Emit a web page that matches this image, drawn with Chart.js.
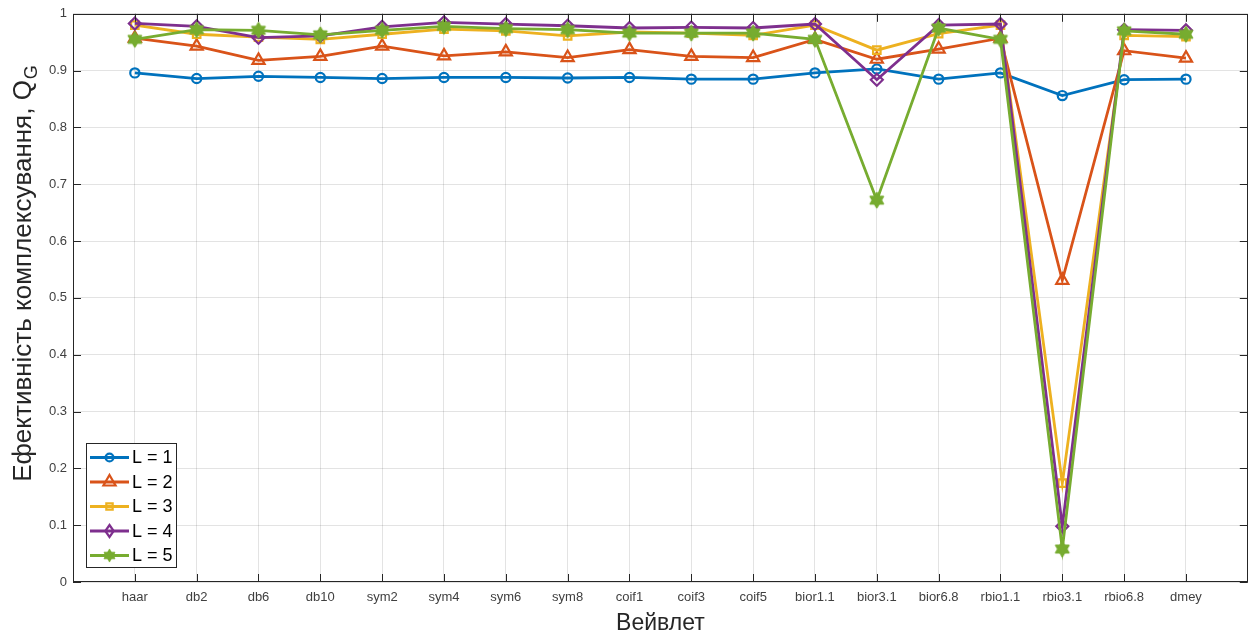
<!DOCTYPE html>
<html>
<head>
<meta charset="utf-8">
<title>Ефективність комплексування</title>
<script src="https://cdn.jsdelivr.net/npm/chart.js@4/dist/chart.umd.min.js"></script>
<style>
  html, body { margin: 0; padding: 0; background: #fff; }
  #wrap { width: 1257px; height: 635px; }
</style>
</head>
<body>
<div id="wrap"><canvas id="c" width="1257" height="635"></canvas></div>
<script>
// Wavelets on the horizontal axis
const wavelets = ['haar', 'db2', 'db6', 'db10', 'sym2', 'sym4', 'sym6', 'sym8',
  'coif1', 'coif3', 'coif5', 'bior1.1', 'bior3.1', 'bior6.8', 'rbio1.1',
  'rbio3.1', 'rbio6.8', 'dmey'];

// Series names (decomposition level)
const levelNames = ['L = 1', 'L = 2', 'L = 3', 'L = 4', 'L = 5'];

// Fusion efficiency Q_G per wavelet, one array per decomposition level
const qL1 = [0.896, 0.886, 0.890, 0.888, 0.886, 0.888, 0.888, 0.887, 0.888,
  0.885, 0.885, 0.896, 0.903, 0.885, 0.896, 0.856, 0.884, 0.885];
const qL2 = [0.957, 0.943, 0.918, 0.925, 0.943, 0.926, 0.933, 0.923, 0.937,
  0.925, 0.923, 0.955, 0.920, 0.938, 0.957, 0.531, 0.935, 0.922];
const qL3 = [0.980, 0.964, 0.959, 0.955, 0.964, 0.973, 0.970, 0.961, 0.968,
  0.966, 0.962, 0.980, 0.936, 0.965, 0.980, 0.174, 0.962, 0.960];
const qL4 = [0.983, 0.978, 0.958, 0.961, 0.977, 0.985, 0.982, 0.979, 0.975,
  0.976, 0.975, 0.982, 0.884, 0.980, 0.982, 0.098, 0.972, 0.971];
const qL5 = [0.955, 0.972, 0.971, 0.963, 0.971, 0.978, 0.974, 0.972, 0.966,
  0.966, 0.966, 0.955, 0.672, 0.975, 0.955, 0.058, 0.970, 0.964];

// Vertical axis ticks
const yTickValues = [0, 0.1, 0.2, 0.3, 0.4, 0.5, 0.6, 0.7, 0.8, 0.9, 1];

const seriesValues = [qL1, qL2, qL3, qL4, qL5];
const colors = ['#0072BD', '#D95319', '#EDB120', '#7E2F8E', '#77AC30'];
const AXIS = '#262626';
const FONT = '"Liberation Sans", Arial, Helvetica, sans-serif';
const LINE_W = 2.8;
const MARK_W = 2.2;

// Six-pointed star marker as an image
function makeHexagram(color) {
  const cv = document.createElement('canvas');
  cv.width = 20; cv.height = 20;
  const g = cv.getContext('2d');
  const cx = 10, cy = 10, r = 7.4;
  g.strokeStyle = color; g.fillStyle = color; g.lineWidth = 1.8; g.lineJoin = 'round';
  for (const rot of [-Math.PI / 2, Math.PI / 2]) {
    g.beginPath();
    for (let k = 0; k < 3; k++) {
      const a = rot + k * 2 * Math.PI / 3;
      const px = cx + r * Math.cos(a), py = cy + r * Math.sin(a);
      if (k === 0) g.moveTo(px, py); else g.lineTo(px, py);
    }
    g.closePath();
    g.fill(); g.stroke();
  }
  return cv;
}
const hexagram = makeHexagram(colors[4]);

const markers = [
  { style: 'circle', radius: 4.6 },
  { style: 'triangle', radius: 7 },
  { style: 'rect', radius: 5.3 },
  { style: 'rectRot', radius: 6 },
  { style: hexagram, radius: 7 }
];

const datasets = seriesValues.map((vals, i) => ({
  label: levelNames[i],
  data: vals.map((v, j) => ({ x: j + 1, y: v })),
  borderColor: colors[i],
  backgroundColor: colors[i],
  borderWidth: LINE_W,
  pointStyle: markers[i].style,
  pointRadius: markers[i].radius,
  pointBorderWidth: MARK_W,
  pointBorderColor: colors[i],
  pointBackgroundColor: 'rgba(0,0,0,0)',
  tension: 0,
  order: 4 - i
}));

// Marker drawing for the legend box
function drawMarker(ctx, i, x, y) {
  const m = markers[i];
  ctx.save();
  ctx.strokeStyle = colors[i];
  ctx.lineWidth = MARK_W;
  const r = m.radius;
  ctx.beginPath();
  if (m.style === 'circle') {
    ctx.arc(x, y, r * 0.85, 0, Math.PI * 2);
    ctx.stroke();
  } else if (m.style === 'triangle') {
    ctx.moveTo(x, y - r);
    ctx.lineTo(x + r * 0.866, y + r * 0.5);
    ctx.lineTo(x - r * 0.866, y + r * 0.5);
    ctx.closePath();
    ctx.stroke();
  } else if (m.style === 'rect') {
    const s = r * 0.6;
    ctx.rect(x - s, y - s, 2 * s, 2 * s);
    ctx.stroke();
  } else if (m.style === 'rectRot') {
    ctx.moveTo(x, y - r); ctx.lineTo(x + r * 0.7, y);
    ctx.lineTo(x, y + r); ctx.lineTo(x - r * 0.7, y);
    ctx.closePath();
    ctx.stroke();
  } else {
    ctx.drawImage(m.style, x - 8, y - 8, 16, 16);
  }
  ctx.restore();
}

// Box, inward ticks, axis titles and legend
const framePlugin = {
  id: 'frame',
  afterDraw(chart) {
    const ctx = chart.ctx;
    const a = chart.chartArea;
    const xs = chart.scales.x, ys = chart.scales.y;
    ctx.save();
    ctx.strokeStyle = AXIS;
    ctx.lineWidth = 1;
    // frame
    ctx.strokeRect(Math.round(a.left) + 0.5, Math.round(a.top) + 0.5,
      Math.round(a.right - a.left) - 1, Math.round(a.bottom - a.top) - 1);
    // ticks pointing inward, on all four sides
    const tl = 8;
    ctx.beginPath();
    for (let j = 1; j <= wavelets.length; j++) {
      const px = Math.round(xs.getPixelForValue(j)) + 0.5;
      ctx.moveTo(px, a.bottom); ctx.lineTo(px, a.bottom - tl);
      ctx.moveTo(px, a.top); ctx.lineTo(px, a.top + tl);
    }
    for (const v of yTickValues) {
      const py = Math.round(ys.getPixelForValue(v)) + 0.5;
      ctx.moveTo(a.left, py); ctx.lineTo(a.left + tl, py);
      ctx.moveTo(a.right, py); ctx.lineTo(a.right - tl, py);
    }
    ctx.stroke();

    // x title
    ctx.fillStyle = AXIS;
    ctx.font = '23px ' + FONT;
    ctx.textAlign = 'center';
    ctx.textBaseline = 'alphabetic';
    ctx.fillText('Вейвлет', (a.left + a.right) / 2, 630);

    // y title with subscript G
    const main = 'Ефективність комплексування, Q';
    ctx.font = '26px ' + FONT;
    const wMain = ctx.measureText(main).width;
    ctx.font = '18px ' + FONT;
    const wSub = ctx.measureText('G').width;
    const total = wMain + wSub;
    ctx.translate(31, 274);
    ctx.rotate(-Math.PI / 2);
    ctx.textAlign = 'left';
    ctx.font = '26px ' + FONT;
    ctx.fillText(main, -total / 2, 0);
    ctx.font = '18px ' + FONT;
    ctx.fillText('G', -total / 2 + wMain + 1, 6);
    ctx.setTransform(1, 0, 0, 1, 0, 0);

    // legend
    const lx = 86.5, ly = 443.5, lw = 90, lh = 124;
    ctx.fillStyle = '#ffffff';
    ctx.fillRect(lx, ly, lw, lh);
    ctx.strokeStyle = AXIS;
    ctx.lineWidth = 1;
    ctx.strokeRect(lx, ly, lw, lh);
    ctx.font = '18px ' + FONT;
    ctx.textAlign = 'left';
    ctx.textBaseline = 'middle';
    for (let i = 0; i < levelNames.length; i++) {
      const cy = 457.5 + i * 24.5;
      ctx.strokeStyle = colors[i];
      ctx.lineWidth = LINE_W;
      ctx.beginPath();
      ctx.moveTo(90, cy); ctx.lineTo(129, cy);
      ctx.stroke();
      drawMarker(ctx, i, 109.5, cy);
      ctx.fillStyle = '#000000';
      ctx.fillText(levelNames[i], 132, cy + 1);
    }
    ctx.restore();
  }
};

new Chart(document.getElementById('c'), {
  type: 'line',
  data: { datasets },
  plugins: [framePlugin],
  options: {
    responsive: false,
    animation: false,
    devicePixelRatio: 1,
    layout: { padding: { top: 13, right: 3, left: 0, bottom: 0 } },
    plugins: { legend: { display: false }, tooltip: { enabled: false } },
    scales: {
      x: {
        type: 'linear',
        min: 0,
        max: wavelets.length + 1,
        afterFit(s) { s.height = 53; },
        afterBuildTicks(s) { s.ticks = wavelets.map((_, j) => ({ value: j + 1 })); },
        ticks: {
          autoSkip: false,
          maxRotation: 0,
          padding: 8,
          color: '#404040',
          font: { family: FONT, size: 13 },
          callback: (v) => wavelets[v - 1] || ''
        },
        grid: { color: 'rgba(38,38,38,0.13)', drawTicks: false, lineWidth: 1 },
        border: { display: false }
      },
      y: {
        type: 'linear',
        min: 0,
        max: 1,
        afterFit(s) { s.width = 73; },
        afterBuildTicks(s) { s.ticks = yTickValues.map(v => ({ value: v })); },
        ticks: {
          padding: 6,
          color: '#404040',
          font: { family: FONT, size: 13 },
          callback: (v) => String(+v.toFixed(1))
        },
        grid: { color: 'rgba(38,38,38,0.13)', drawTicks: false, lineWidth: 1 },
        border: { display: false }
      }
    }
  }
});
</script>
</body>
</html>
